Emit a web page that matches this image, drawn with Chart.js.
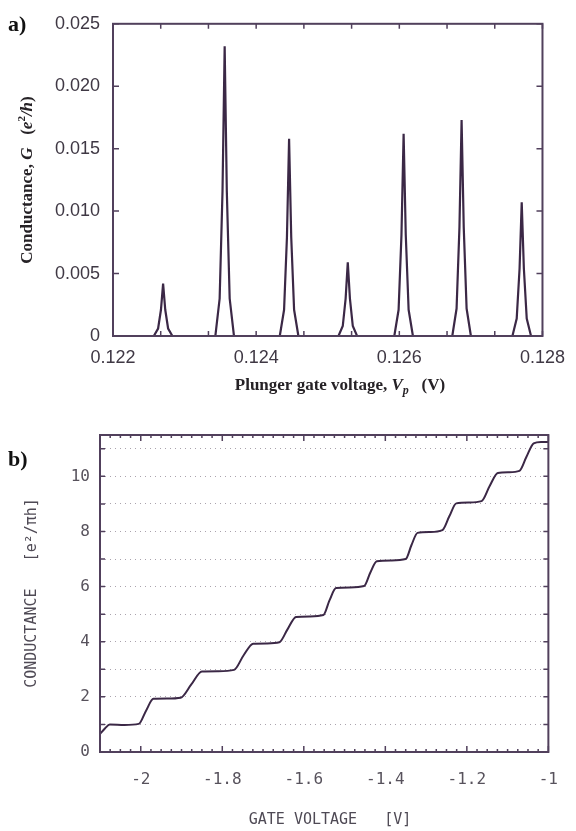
<!DOCTYPE html>
<html>
<head>
<meta charset="utf-8">
<title>Conductance</title>
<script src="https://cdn.jsdelivr.net/npm/chart.js"></script>
<style>
body { margin: 0; background: #fff; }
#wrap { position: relative; width: 576px; height: 831px; }
canvas { position: absolute; left: 0; }
#chartA { top: 0; }
#chartB { top: 400px; }
</style>
</head>
<body>
<div id="wrap">
<canvas id="chartA" width="576" height="400"></canvas>
<canvas id="chartB" width="576" height="431"></canvas>
</div>
<script>
// a) Coulomb blockade peaks
var plungerV = [0.1220,
  0.12257, 0.12263, 0.12267, 0.12270, 0.12273, 0.12277, 0.12283,
  0.12343, 0.12349, 0.12353, 0.12356, 0.12359, 0.12363, 0.12369,
  0.12433, 0.12439, 0.12443, 0.12446, 0.12449, 0.12453, 0.12459,
  0.12515, 0.12521, 0.12525, 0.12528, 0.12531, 0.12535, 0.12541,
  0.12593, 0.12599, 0.12603, 0.12606, 0.12609, 0.12613, 0.12619,
  0.12674, 0.12680, 0.12684, 0.12687, 0.12690, 0.12694, 0.12700,
  0.12758, 0.12764, 0.12768, 0.12771, 0.12774, 0.12778, 0.12784,
  0.1280];
var peakG = [0,
  0, 0.0006, 0.0021, 0.0042, 0.0021, 0.0006, 0,
  0, 0.0030, 0.0116, 0.0232, 0.0116, 0.0030, 0,
  0, 0.0021, 0.0079, 0.0158, 0.0079, 0.0021, 0,
  0, 0.0008, 0.0030, 0.0059, 0.0030, 0.0008, 0,
  0, 0.0021, 0.0081, 0.0162, 0.0081, 0.0021, 0,
  0, 0.0022, 0.0087, 0.0173, 0.0087, 0.0022, 0,
  0, 0.0014, 0.0054, 0.0107, 0.0054, 0.0014, 0,
  0];
var plungerTicks = [0.122, 0.124, 0.126, 0.128];
var peakTicks = [0, 0.005, 0.010, 0.015, 0.020, 0.025];

// b) quantized conductance steps
var gateV = [-2.1, -2.088, -2.076, -2.04, -2.005, -1.987, -1.969, -1.935, -1.902, -1.876,
  -1.850, -1.81, -1.771, -1.748, -1.724, -1.69, -1.660, -1.64, -1.619, -1.585,
  -1.552, -1.537, -1.521, -1.487, -1.452, -1.437, -1.421, -1.385, -1.350, -1.336,
  -1.321, -1.29, -1.260, -1.243, -1.226, -1.195, -1.164, -1.144, -1.124, -1.097,
  -1.071, -1.054, -1.036, -1.018, -1.0];
var stepG = [0.65, 0.85, 1.0, 0.98, 1.02, 1.5, 1.93, 1.94, 1.97, 2.45,
  2.92, 2.93, 2.98, 3.5, 3.93, 3.94, 3.98, 4.45, 4.9, 4.92,
  4.97, 5.5, 5.95, 5.97, 6.02, 6.5, 6.92, 6.95, 7.0, 7.5,
  7.95, 7.98, 8.05, 8.55, 9.02, 9.05, 9.1, 9.65, 10.12, 10.15,
  10.2, 10.7, 11.2, 11.25, 11.25];
var gateTicks = [-2, -1.8, -1.6, -1.4, -1.2, -1];
var stepTicks = [0, 2, 4, 6, 8, 10];
var stepGrid = [0, 1, 2, 3, 4, 5, 6, 7, 8, 9, 10, 11];

var LINE = '#3b2846';
var FRAME = '#51405c';
var SERIF = '"Liberation Serif", serif';
var MONO = '"DejaVu Sans Mono", monospace';

function runsWidth(ctx, runs) {
  var w = 0;
  runs.forEach(function (r) { ctx.font = r.f; w += ctx.measureText(r.t).width; });
  return w;
}

function drawRuns(ctx, runs, cx, cy, rot) {
  ctx.save();
  ctx.translate(cx, cy);
  if (rot) ctx.rotate(-Math.PI / 2);
  ctx.textBaseline = 'middle';
  ctx.textAlign = 'left';
  var x = -runsWidth(ctx, runs) / 2;
  runs.forEach(function (r) {
    ctx.font = r.f;
    ctx.fillText(r.t, x, r.dy || 0);
    x += ctx.measureText(r.t).width;
  });
  ctx.restore();
}

// box, inward tick marks and titles
var framePlugin = {
  id: 'frame',
  afterDraw: function (chart, args, o) {
    var ctx = chart.ctx, a = chart.chartArea;
    var xs = chart.scales.x, ys = chart.scales.y;
    ctx.save();
    ctx.strokeStyle = FRAME;
    ctx.lineWidth = 2;
    ctx.strokeRect(a.left, a.top, a.right - a.left, a.bottom - a.top);
    ctx.lineWidth = 1.5;
    ctx.beginPath();
    o.xMarks.forEach(function (m) {
      var px = xs.getPixelForValue(m[0]);
      ctx.moveTo(px, a.top); ctx.lineTo(px, a.top + m[1]);
      ctx.moveTo(px, a.bottom); ctx.lineTo(px, a.bottom - m[1]);
    });
    o.yMarks.forEach(function (m) {
      var py = ys.getPixelForValue(m[0]);
      ctx.moveTo(a.left, py); ctx.lineTo(a.left + m[1], py);
      ctx.moveTo(a.right, py); ctx.lineTo(a.right - m[1], py);
    });
    ctx.stroke();
    ctx.fillStyle = o.titleColor;
    drawRuns(ctx, o.xTitle, o.xTitlePos[0], o.xTitlePos[1], false);
    drawRuns(ctx, o.yTitle, o.yTitlePos[0], o.yTitlePos[1], true);
    ctx.fillStyle = '#111';
    ctx.font = 'bold 22px ' + SERIF;
    ctx.textAlign = 'left';
    ctx.textBaseline = 'alphabetic';
    ctx.fillText(o.panel, o.panelPos[0], o.panelPos[1]);
    ctx.restore();
  }
};

var marksA = [];
for (var i = 0; i <= 9; i++) marksA.push([0.122 + i * 0.006 / 9, 5]);
var marksAy = peakTicks.map(function (v) { return [v, 6]; });

var B = 'bold 17px ' + SERIF, BI = 'bold italic 17px ' + SERIF;

new Chart(document.getElementById('chartA'), {
  type: 'line',
  data: {
    datasets: [{
      data: plungerV.map(function (v, i) { return { x: v, y: peakG[i] }; }),
      borderColor: LINE,
      borderWidth: 2.2,
      pointRadius: 0,
      tension: 0,
      fill: false
    }]
  },
  options: {
    responsive: false,
    animation: false,
    layout: { padding: { top: 20, right: 33, left: 0, bottom: 0 } },
    plugins: {
      legend: { display: false },
      tooltip: { enabled: false },
      frame: {
        xMarks: marksA,
        yMarks: marksAy,
        titleColor: '#262226',
        xTitle: [{ t: 'Plunger gate voltage, ', f: B }, { t: 'V', f: BI }, { t: 'p', f: 'bold italic 12px ' + SERIF, dy: 5 }, { t: '   (V)', f: B }],
        xTitlePos: [340, 386],
        yTitle: [{ t: 'Conductance, ', f: B }, { t: 'G', f: BI }, { t: '   (', f: B }, { t: 'e', f: BI }, { t: '2', f: 'bold 11px ' + SERIF, dy: -6 }, { t: '/', f: BI }, { t: 'h', f: BI }, { t: ')', f: B }],
        yTitlePos: [28, 180],
        panel: 'a)',
        panelPos: [8, 31]
      }
    },
    scales: {
      x: {
        type: 'linear',
        min: 0.122,
        max: 0.128,
        afterBuildTicks: function (s) { s.ticks = plungerTicks.map(function (v) { return { value: v }; }); },
        afterFit: function (s) { s.height = 64; },
        grid: { display: false, drawTicks: false },
        border: { display: false },
        ticks: {
          padding: 11,
          color: '#3f3844',
          font: { family: '"Liberation Sans", Arial, sans-serif', size: 18 },
          maxRotation: 0,
          callback: function (v) { return v.toFixed(3); }
        }
      },
      y: {
        min: 0,
        max: 0.025,
        afterBuildTicks: function (s) { s.ticks = peakTicks.map(function (v) { return { value: v }; }); },
        afterFit: function (s) { s.width = 113; },
        grid: { display: false, drawTicks: false },
        border: { display: false },
        ticks: {
          padding: 13,
          color: '#3f3844',
          font: { family: '"Liberation Sans", Arial, sans-serif', size: 18 },
          callback: function (v) { return v === 0 ? '0' : v.toFixed(3); }
        }
      }
    }
  },
  plugins: [framePlugin]
});

var marksB = [];
for (var j = 0; j <= 44; j++) {
  var v = -2.1 + j * 0.025;
  marksB.push([v, (j % 8 === 4) ? 6 : 3]);
}
var marksBy = stepGrid.map(function (v) { return [v, 5]; });

new Chart(document.getElementById('chartB'), {
  type: 'line',
  data: {
    datasets: [{
      data: gateV.map(function (v, i) { return { x: v, y: stepG[i] }; }),
      borderColor: LINE,
      borderWidth: 2,
      pointRadius: 0,
      cubicInterpolationMode: 'monotone',
      fill: false
    }]
  },
  options: {
    responsive: false,
    animation: false,
    layout: { padding: { top: 35, right: 14, left: 0, bottom: 0 } },
    plugins: {
      legend: { display: false },
      tooltip: { enabled: false },
      frame: {
        xMarks: marksB,
        yMarks: marksBy,
        titleColor: '#4f4a55',
        xTitle: [{ t: 'GATE VOLTAGE   [V]', f: '15px ' + MONO }],
        xTitlePos: [330, 420],
        yTitle: [{ t: 'CONDUCTANCE   [e²/πh]', f: '15px ' + MONO }],
        yTitlePos: [32, 193],
        panel: 'b)',
        panelPos: [8, 66]
      }
    },
    scales: {
      x: {
        type: 'linear',
        min: -2.1,
        max: -1,
        afterBuildTicks: function (s) { s.ticks = gateTicks.map(function (v) { return { value: v }; }); },
        afterFit: function (s) { s.height = 79; },
        grid: { display: false, drawTicks: false },
        border: { display: false },
        ticks: {
          padding: 18,
          color: '#57525c',
          font: { family: MONO, size: 16 },
          maxRotation: 0,
          callback: function (v) { return String(Math.round(v * 10) / 10); }
        }
      },
      y: {
        min: 0,
        max: 11.5,
        afterBuildTicks: function (s) { s.ticks = stepGrid.map(function (v) { return { value: v }; }); },
        afterFit: function (s) { s.width = 100; },
        grid: {
          drawTicks: false,
          color: function (c) { return c.tick && c.tick.value === 0 ? 'rgba(0,0,0,0)' : '#aaa3ad'; },
          borderDash: [1, 4],
          lineWidth: 1
        },
        border: { display: false, dash: [1, 4] },
        ticks: {
          padding: 10,
          color: '#57525c',
          font: { family: MONO, size: 16 },
          callback: function (v) { return stepTicks.indexOf(v) >= 0 ? String(v) : ''; }
        }
      }
    }
  },
  plugins: [framePlugin]
});
</script>
</body>
</html>
